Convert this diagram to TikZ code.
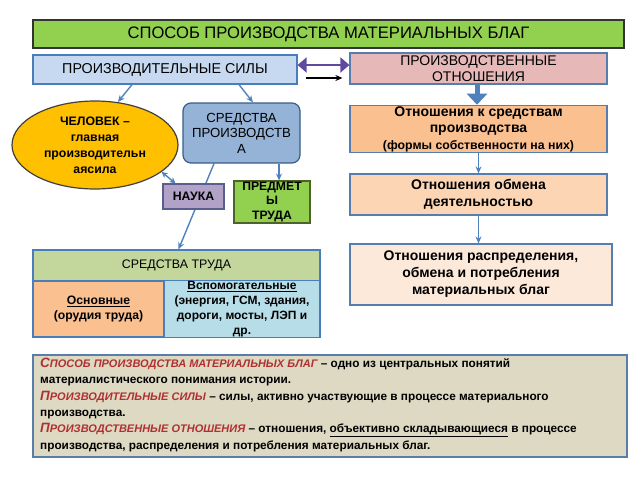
\documentclass[tikz,border=0pt]{standalone}
\usepackage{fontspec}
\setmainfont{Liberation Sans}
\usetikzlibrary{arrows.meta,shapes.geometric,backgrounds}
\definecolor{bordblue}{HTML}{4A7EBB}
\definecolor{arrblue}{HTML}{4F81BD}
\definecolor{termred}{HTML}{B03030}
\newcommand\myterm[2]{{\color{termred}\itshape\fontsize{13.5}{16}\selectfont #1\fontsize{11}{16}\selectfont #2}}
\tikzset{
  box/.style={draw=bordblue, line width=1.2pt, align=center, inner sep=1pt, text=black},
  arr/.style={draw=arrblue, line width=1.4pt, -{Stealth[length=7pt,width=6pt]}},
}
\begin{document}
\begin{tikzpicture}[x=1pt,y=-1pt]
\useasboundingbox (0,0) rectangle (640,480);
% top
\node[box, draw=black!80, fill={rgb,255:red,146;green,208;blue,80}, minimum width=591pt, minimum height=28pt, font=\fontsize{16.6}{18}\selectfont] (title) at (328.5,34) {СПОСОБ ПРОИЗВОДСТВА МАТЕРИАЛЬНЫХ БЛАГ};
\node[box, fill={rgb,255:red,198;green,217;blue,241}, minimum width=264pt, minimum height=29pt, font=\fontsize{14.3}{16}\selectfont] (ps) at (165,69.5) {ПРОИЗВОДИТЕЛЬНЫЕ СИЛЫ};
\node[box, draw=bordblue!80!gray, fill={rgb,255:red,230;green,185;blue,184}, minimum width=257pt, minimum height=31pt, font=\fontsize{14}{16}\selectfont] (po) at (478.5,68.5) {ПРОИЗВОДСТВЕННЫЕ\\ОТНОШЕНИЯ};
% left
\node[ellipse, draw=black!75, line width=1.2pt, fill={rgb,255:red,255;green,192;blue,0}, minimum width=166pt, minimum height=88pt, inner sep=0pt, align=center, font=\bfseries\fontsize{12.3}{16}\selectfont] (ell) at (95,145) {ЧЕЛОВЕК –\\главная\\производительн\\аясила};
\node[box, draw={rgb,255:red,56;green,93;blue,138}, rounded corners=8pt, fill={rgb,255:red,149;green,179;blue,215}, minimum width=117pt, minimum height=60pt, font=\fontsize{13.2}{15.5}\selectfont] (sp) at (241.5,133) {СРЕДСТВА\\ПРОИЗВОДСТВ\\А};
\node[box, draw={rgb,255:red,90;green,94;blue,140}, fill={rgb,255:red,179;green,162;blue,199}, minimum width=61pt, minimum height=25pt, font=\bfseries\fontsize{12.3}{14}\selectfont] (nauka) at (193.5,196.5) {НАУКА};
\node[box, draw={rgb,255:red,79;green,98;blue,40}, fill={rgb,255:red,146;green,208;blue,80}, minimum width=76pt, minimum height=36pt, font=\bfseries\fontsize{12.2}{14.5}\selectfont] (predm) at (272,202) {ПРЕДМЕТ\\Ы\\ТРУДА};
% table
\node[box, fill={rgb,255:red,195;green,214;blue,155}, minimum width=287pt, minimum height=31pt, font=\fontsize{12.4}{14}\selectfont] (st) at (176.5,265.5) {СРЕДСТВА ТРУДА};
\node[box, fill={rgb,255:red,250;green,192;blue,144}, minimum width=131pt, minimum height=56pt, font=\bfseries\fontsize{12.2}{14.5}\selectfont] (osn) at (98.5,309) {\underline{Основные}\\(орудия труда)};
\node[box, fill={rgb,255:red,183;green,222;blue,232}, minimum width=156pt, minimum height=56pt, font=\bfseries\fontsize{12}{15}\selectfont] (vsp) at (242,309) {\underline{Вспомогательные}\\(энергия, ГСМ, здания,\\дороги, мосты, ЛЭП и\\др.};
% right
\node[box, draw=bordblue!80!gray, fill={rgb,255:red,250;green,192;blue,144}, minimum width=257pt, minimum height=42pt, font=\bfseries\fontsize{14}{16.5}\selectfont] (r1) at (478.5,129) {Отношения к средствам\\производства\\{\fontsize{12.3}{13}\selectfont (формы собственности на них)}};
\node[box, draw=bordblue!80!gray, fill={rgb,255:red,252;green,213;blue,181}, minimum width=257pt, minimum height=41pt, font=\bfseries\fontsize{14}{16.5}\selectfont] (r2) at (478.5,194.5) {Отношения обмена\\деятельностью};
\node[box, draw=bordblue!80!gray, fill={rgb,255:red,253;green,233;blue,217}, minimum width=262pt, minimum height=61pt, font=\bfseries\fontsize{14}{17}\selectfont] (r3) at (481,274.5) {Отношения распределения,\\обмена и потребления\\материальных благ};
% bottom
\node[draw=bordblue!70!gray, line width=1.2pt, fill={rgb,255:red,221;green,217;blue,195}, minimum width=594pt, minimum height=102pt] (bot) at (330,406) {};
\node[anchor=north west, align=left, inner sep=0pt, font=\bfseries\fontsize{11.8}{16.3}\selectfont] (bottxt) at (40,358) {\myterm{С}{ПОСОБ ПРОИЗВОДСТВА МАТЕРИАЛЬНЫХ БЛАГ} – одно из центральных понятий\\
материалистического понимания истории.\\
\myterm{П}{РОИЗВОДИТЕЛЬНЫЕ СИЛЫ} – силы, активно участвующие в процессе материального\\
производства.\\
\myterm{П}{РОИЗВОДСТВЕННЫЕ ОТНОШЕНИЯ} –  отношения, \underline{объективно складывающиеся} в процессе\\
производства, распределения и потребления материальных благ.};
% connectors
\coordinate (c65) at (0,65);
\coordinate (c78) at (0,78);
\coordinate (c279) at (279,0);
\draw[draw={rgb,255:red,96;green,74;blue,160}, line width=2pt, {Triangle[length=9pt,width=15pt]}-{Triangle[length=9pt,width=15pt]}] (ps.east |- c65) -- (po.west |- c65);
\draw[black, line width=1.2pt, -{Stealth[length=7pt,width=6pt]}] ([xshift=8pt]ps.east |- c78) -- ([xshift=-7pt]po.west |- c78);
\begin{scope}[on background layer]
\draw[arr] ([xshift=-33pt]ps.south) -- (ell.62);
\draw[arr] ([xshift=74pt]ps.south) -- ([xshift=11.5pt]sp.north);
\draw[arr] ([xshift=-27.5pt]sp.south) -- ([xshift=2pt]st.north);
\draw[arr] (sp.south -| c279) -- (predm.north -| c279);
\draw[arr, {Stealth[length=6pt,width=6pt]}-{Stealth[length=6pt,width=6pt]}] ([xshift=-18pt]nauka.north) -- (ell.-22);
\draw[draw=arrblue, line width=5pt, -{Triangle[length=11pt,width=20pt]}] ([xshift=-1.5pt]po.south) -- ([xshift=-1.5pt]r1.north);
\draw[arr] (r1.south) -- (r2.north);
\draw[arr] (r2.south) -- ([xshift=-2.5pt]r3.north);
\end{scope}
\end{tikzpicture}
\end{document}
